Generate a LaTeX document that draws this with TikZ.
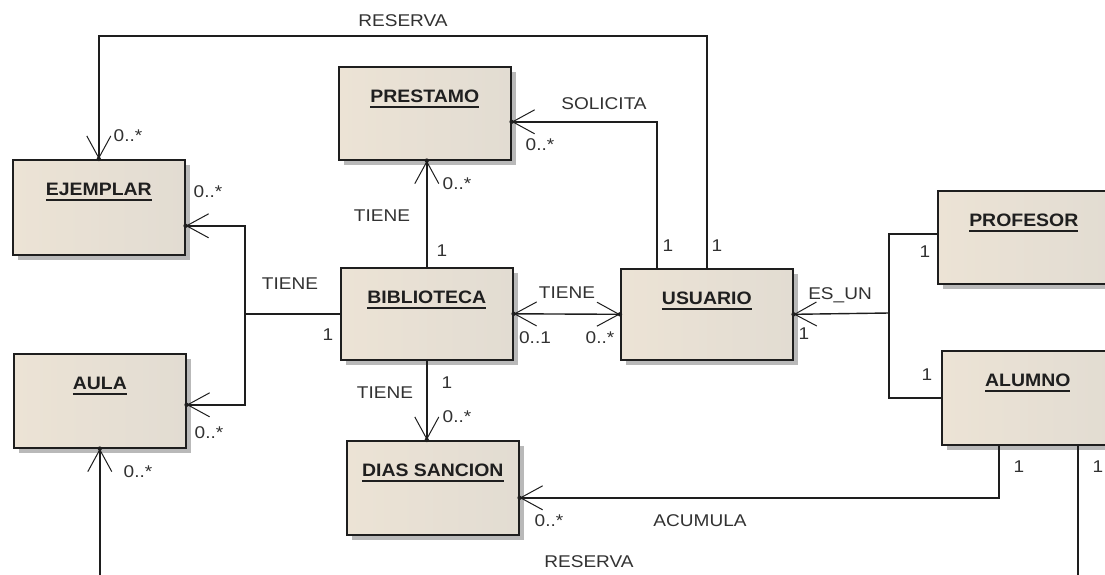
\documentclass[tikz,border=0pt]{standalone}
\usepackage{fontspec}
\setmainfont{Liberation Sans}[FakeStretch=1.08]
\newfontfamily\lblfont{Liberation Sans}[FakeStretch=1.12]
\usetikzlibrary{arrows.meta,shadows,decorations.markings,calc}
\definecolor{linec}{RGB}{30,30,30}
\definecolor{txtc}{RGB}{50,50,50}
\definecolor{boxL}{RGB}{236,227,213}
\definecolor{boxM}{RGB}{246,242,235}
\definecolor{boxR}{RGB}{226,220,210}
\definecolor{shad}{RGB}{185,185,185}
\newcommand\ulname[1]{\setbox0=\hbox{#1}\rlap{\vrule height -3.5pt depth 5.5pt width \wd0}\box0}
\tikzset{
  barbtip/.tip={Straight Barb[length=22pt,width=24pt,line width=1pt]},
  cls/.style={anchor=north west, draw=linec, line width=1.6pt, minimum width=172pt,
    inner sep=0pt, text height=36pt, left color=boxL, middle color=boxM, right color=boxR,
    general shadow={shadow xshift=5pt, shadow yshift=-5pt, fill=shad},
    font=\fontsize{18}{20}\selectfont\bfseries, text=black!88},
  assoc/.style={draw=linec, line width=1.4pt},
  toend/.style={-barbtip, postaction={decorate, decoration={markings,
    mark=at position 1 with {\fill[linec] (0,0) circle (2.2pt);}}}},
  twoway/.style={barbtip-barbtip, postaction={decorate, decoration={markings,
    mark=at position 0 with {\fill[linec] (0,0) circle (2.2pt);},
    mark=at position 1 with {\fill[linec] (0,0) circle (2.2pt);}}}},
  lbl/.style={text=txtc, inner sep=0pt, font=\lblfont\fontsize{17}{19}\selectfont},
}
\begin{document}
\begin{tikzpicture}[x=1pt,y=-1pt]
\useasboundingbox (0,0) rectangle (1105,574);
\fill[white] (0,0) rectangle (1105,574);
\clip (0,0) rectangle (1105,574);

% classes
\node[cls, text depth=59pt] (ejem) at (12,159) {\ulname{EJEMPLAR}};
\node[cls, text depth=57pt] (pres) at (338,66) {\ulname{PRESTAMO}};
\node[cls, text depth=56pt] (bib) at (340,267) {\ulname{BIBLIOTECA}};
\node[cls, text depth=55pt] (usr) at (620,268) {\ulname{USUARIO}};
\node[cls, text depth=58pt] (aula) at (13,353) {\ulname{AULA}};
\node[cls, text depth=58pt] (dias) at (346,440) {\ulname{DIAS SANCION}};
\node[cls, text depth=57pt] (prof) at (937,190) {\ulname{PROFESOR}};
\node[cls, text depth=58pt] (alum) at (941,350) {\ulname{ALUMNO}};

% connectors
\draw[assoc, toend] (usr.north) -- (usr.north |- 0,36) -| (ejem.north);
\draw[assoc, toend] ([xshift=37pt]usr.north west) |- ([yshift=-8.5pt]pres.east);
\draw[assoc, toend] (bib.north) -- (bib.north |- pres.south);
\draw[assoc, twoway] (bib.east) -- (usr.west);
\draw[assoc] (bib.west) -- ++(-95,0) coordinate (jl);
\draw[assoc, toend] (jl) |- ([yshift=-18.5pt]ejem.east);
\draw[assoc, toend] (jl) |- ([yshift=-4pt]aula.east);
\draw[assoc, toend] (bib.south) -- (bib.south |- dias.north);
\coordinate (jr) at (889,313);
\draw[assoc, toend] (jr) -- (usr.east);
\draw[assoc] (jr) |- ([yshift=3.5pt]prof.west);
\draw[assoc] (jr) |- (alum.west);
\draw[assoc, toend] ([xshift=58pt]alum.south west) |- ([yshift=-10pt]dias.east);
\draw[assoc, toend] ([xshift=137pt]alum.south west) -- ++(0,146) -| (aula.south);

% labels
\node[lbl] (l1) at (403,21) {RESERVA};
\node[lbl] (l2) at (128,136) {0..*};
\node[lbl] (l3) at (208,192) {0..*};
\node[lbl] (l4) at (290,284) {TIENE};
\node[lbl] (l5) at (328,335) {1};
\node[lbl] (l6) at (209,433) {0..*};
\node[lbl] (l7) at (138,472) {0..*};
\node[lbl] (l8) at (457,184) {0..*};
\node[lbl] (l9) at (382,216) {TIENE};
\node[lbl] (l10) at (442,251) {1};
\node[lbl] (l11) at (604,104) {SOLICITA};
\node[lbl] (l12) at (540,145) {0..*};
\node[lbl] (l13) at (668,246) {1};
\node[lbl] (l14) at (717,246) {1};
\node[lbl] (l15) at (567,293) {TIENE};
\node[lbl] (l16) at (535,338) {0..1};
\node[lbl] (l17) at (600,338) {0..*};
\node[lbl] (l18) at (840,295) {ES\_UN};
\node[lbl] (l19) at (804,334) {1};
\node[lbl] (l20) at (925,252) {1};
\node[lbl] (l21) at (927,375) {1};
\node[lbl] (l22) at (385,393) {TIENE};
\node[lbl] (l23) at (447,383) {1};
\node[lbl] (l24) at (457,417) {0..*};
\node[lbl] (l25) at (549,521) {0..*};
\node[lbl] (l26) at (700,521) {ACUMULA};
\node[lbl] (l27) at (1019,467) {1};
\node[lbl] (l28) at (1098,467) {1};
\node[lbl] (l29) at (589,562) {RESERVA};
\end{tikzpicture}
\end{document}
